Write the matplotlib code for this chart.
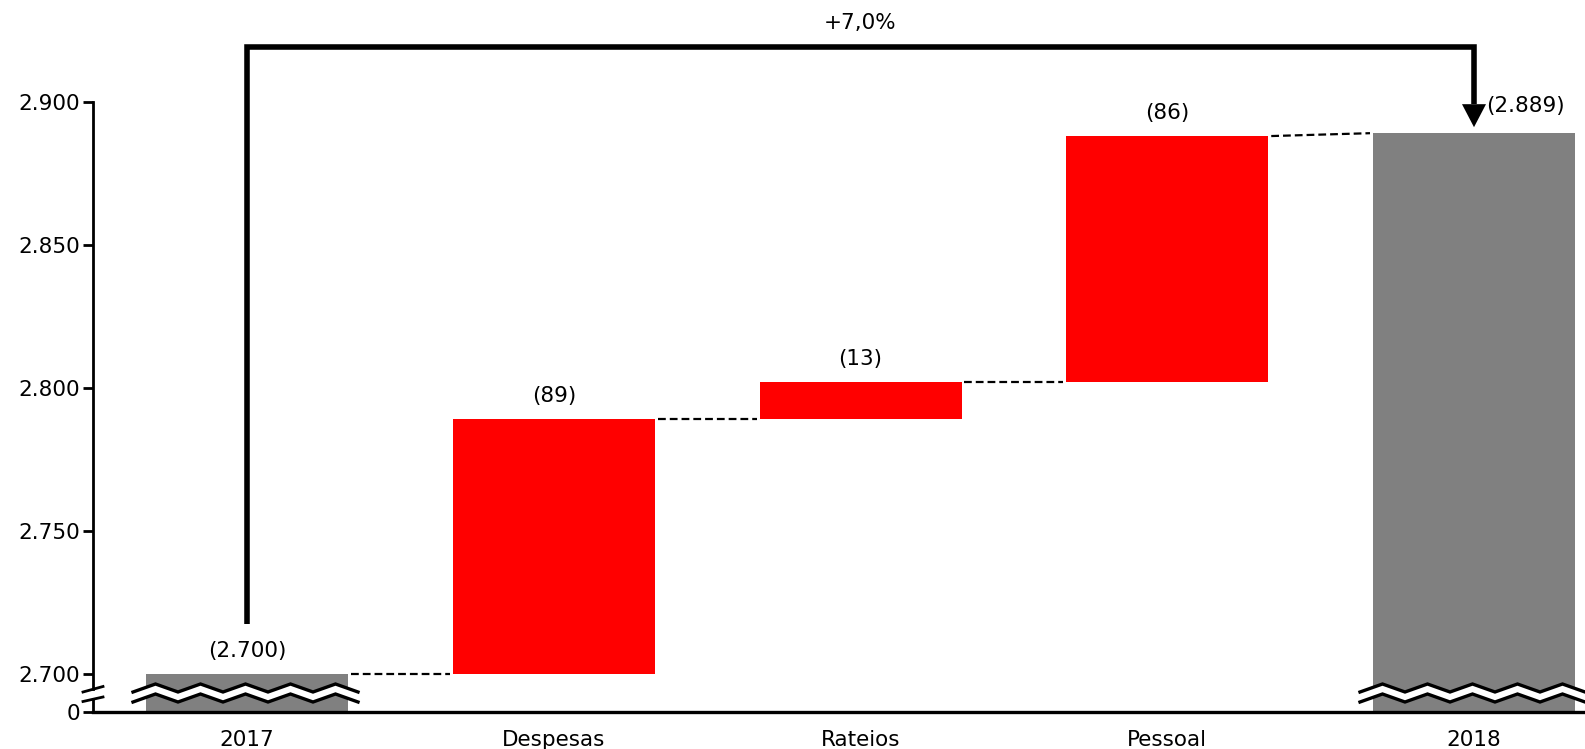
import matplotlib
matplotlib.use("Agg")
import matplotlib.pyplot as plt
import numpy as np
from matplotlib.patches import Polygon

# ---------------- data ----------------
categories = ["2017", "Despesas", "Rateios", "Pessoal", "2018"]
start_total = 2700
deltas = [89, 13, 86]
end_total = 2889
bar_labels = ["(2.700)", "(89)", "(13)", "(86)", "(2.889)"]
ytick_values = [0, 2700, 2750, 2800, 2850, 2900]
ytick_labels = ["0", "2.700", "2.750", "2.800", "2.850", "2.900"]
change_label = "+7,0%"

# ---------------- layout ----------------
W, H, DPI = 1585, 749, 100
plt.rcParams['font.family'] = ['DejaVu Sans']
FS = 15.5

fig = plt.figure(figsize=(W / DPI, H / DPI), dpi=DPI)
fig.patch.set_facecolor("white")

ax_left_px, ax_bottom_px = 93, 712          # axis origin in pixels (from top-left)
ax = fig.add_axes([ax_left_px / W, (H - ax_bottom_px) / H,
                   1 - ax_left_px / W, ax_bottom_px / H])

XPPU = 306.75            # pixels per category step
x0_px = 247              # centre of first category
xlim = ((ax_left_px - x0_px) / XPPU, (W - x0_px) / XPPU)
ax.set_xlim(*xlim)

BREAK_BASE = 2700
GAP = 13.17              # axis units between 0 and 2.700 (broken axis)
PPU = 2.863              # pixels per value unit
ytop = ax_bottom_px / PPU
ax.set_ylim(0, ytop)


def fy(v):
    v = np.asarray(v, dtype=float)
    return np.where(v == 0, 0.0, v - BREAK_BASE + GAP)


def px(n):  # vertical pixels -> axis units
    return n / PPU


def pxx(n):  # horizontal pixels -> axis units
    return n / XPPU


GREY = "#808080"
RED = "#FF0000"
BW = 202 / XPPU

# ---------------- bars ----------------
xs = np.arange(len(categories))
levels_start = [start_total]
for d in deltas:
    levels_start.append(levels_start[-1] + d)

# totals
ax.bar(xs[0], fy(start_total), width=BW, bottom=0, color=GREY, zorder=2)
ax.bar(xs[-1], fy(end_total), width=BW, bottom=0, color=GREY, zorder=2)
# deltas
for i, d in enumerate(deltas):
    ax.bar(xs[i + 1], d, width=BW, bottom=fy(levels_start[i]), color=RED, zorder=2)

# connectors
tops = [start_total] + [levels_start[i + 1] for i in range(len(deltas))]
next_bottoms = [levels_start[i] for i in range(len(deltas))] + [end_total]
for i in range(len(categories) - 1):
    xa = xs[i] + BW / 2 + pxx(3)
    xb = xs[i + 1] - BW / 2 - pxx(3)
    ax.plot([xa, xb], [fy(tops[i]), fy(next_bottoms[i])], color="black",
            lw=1.6, ls=(0, (3.5, 1.8)), zorder=3)

# ---------------- zig-zag breaks on total bars ----------------
def zigzag(xc):
    xstart = xc - BW / 2 - pxx(13)
    half = pxx(22.5)
    k = np.arange(11)
    xz = xstart + k * half
    top_line = np.where(k % 2 == 0, px(20), px(28))
    bot_line = np.where(k % 2 == 0, px(10), px(18))
    poly = Polygon(np.column_stack([np.r_[xz, xz[::-1]],
                                    np.r_[top_line, bot_line[::-1]]]),
                   closed=True, facecolor="white", edgecolor="none", zorder=4)
    ax.add_patch(poly)
    ax.plot(xz, top_line, color="black", lw=2.4, zorder=5, solid_joinstyle="miter")
    ax.plot(xz, bot_line, color="black", lw=2.4, zorder=5, solid_joinstyle="miter")


zigzag(xs[0])
zigzag(xs[-1])

# ---------------- axes styling ----------------
for s in ["top", "right", "left"]:
    ax.spines[s].set_visible(False)
ax.spines["bottom"].set_linewidth(2.4)
ax.spines["bottom"].set_zorder(6)

ax.set_yticks(fy(ytick_values))
ax.set_yticklabels(ytick_labels, fontsize=FS)
ax.tick_params(axis="y", length=7, width=2, direction="out", pad=2)
ax.set_xticks(xs)
ax.set_xticklabels(categories, fontsize=FS)
ax.tick_params(axis="x", length=0, pad=13)

# manual left spine with break
ytr = ax.get_yaxis_transform()
ax.plot([0, 0], [fy(2900), px(23)], transform=ytr, color="black", lw=2,
        clip_on=False, zorder=6, solid_capstyle="projecting")
ax.plot([0, 0], [0, px(13)], transform=ytr, color="black", lw=2,
        clip_on=False, zorder=6)
for yl, yr in [(px(20), px(25.5)), (px(10.5), px(15))]:
    ax.plot([xlim[0] - pxx(10), xlim[0] + pxx(10)], [yl, yr], color="black",
            lw=2, clip_on=False, zorder=6)

# ---------------- labels ----------------
bar_tops = [start_total] + [levels_start[i + 1] for i in range(len(deltas))]
for i in range(4):
    ax.text(xs[i], fy(bar_tops[i]) + px(23), bar_labels[i], ha="center",
            va="center", fontsize=FS, zorder=7)
ax.text(xs[-1] + pxx(12), fy(end_total) + px(27), bar_labels[-1], ha="left",
        va="center", fontsize=FS, zorder=7)

# ---------------- growth arrow ----------------
y_start = fy(start_total) + px(50)
y_line = ytop - px(47)
y_tip = fy(end_total) + px(6)
head_len = px(23)
head_hw = pxx(12)
ax.plot([xs[0], xs[0], xs[-1], xs[-1]],
        [y_start, y_line, y_line, y_tip + head_len],
        color="black", lw=4, solid_joinstyle="miter", solid_capstyle="butt",
        clip_on=False, zorder=7)
ax.add_patch(Polygon([(xs[-1] - head_hw, y_tip + head_len),
                      (xs[-1] + head_hw, y_tip + head_len),
                      (xs[-1], y_tip)], closed=True, facecolor="black",
                     edgecolor="none", zorder=7, clip_on=False))
ax.text((xs[0] + xs[-1]) / 2, y_line + px(24), change_label, ha="center",
        va="center", fontsize=FS, zorder=7)

ax.patch.set_alpha(0)
fig.savefig("out.png", dpi=DPI, facecolor="white")
